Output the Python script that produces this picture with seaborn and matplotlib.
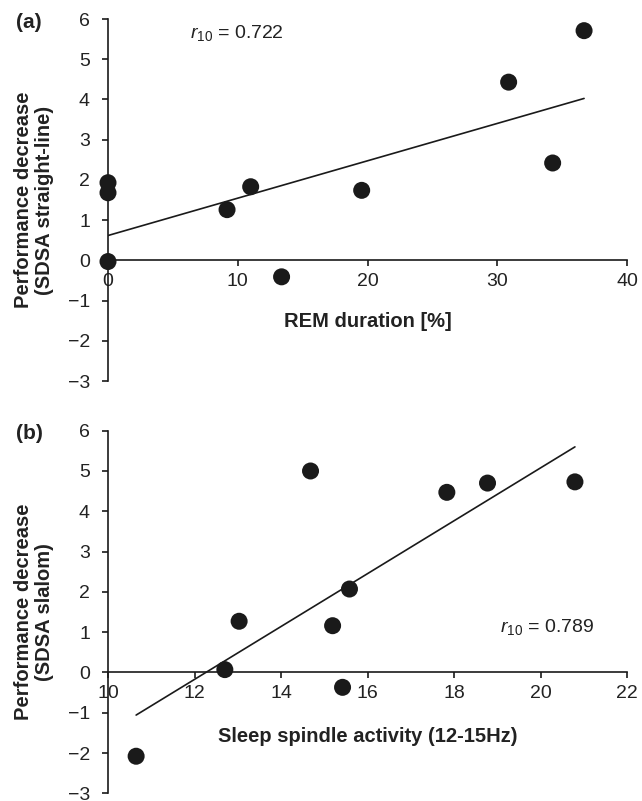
import matplotlib
matplotlib.use("Agg")
import matplotlib.pyplot as plt
import seaborn as sns
import numpy as np
import pandas as pd

# Panel (a): REM duration vs performance decrease (straight-line)
rem_duration = [0.0, 0.0, 0.0, 9.17, 10.99, 13.37, 19.54, 30.86, 34.25, 36.67]
perf_straight = [1.93, 1.68, -0.03, 1.26, 1.83, -0.41, 1.74, 4.43, 2.42, 5.71]

# Panel (b): sleep spindle activity vs performance decrease (slalom)
spindle_activity = [10.65, 12.70, 13.03, 14.68, 15.19, 15.42, 15.58, 17.83, 18.77, 20.79]
perf_slalom = [-2.08, 0.07, 1.27, 5.00, 1.16, -0.37, 2.07, 4.47, 4.70, 4.73]

xticks_a = [0, 10, 20, 30, 40]
xticks_b = [10, 12, 14, 16, 18, 20, 22]
yticks = [-3, -2, -1, 0, 1, 2, 3, 4, 5, 6]

sns.set_theme(style="white")
plt.rcParams['font.family'] = ['Liberation Sans', 'DejaVu Sans']
plt.rcParams['mathtext.fontset'] = 'custom'
plt.rcParams['mathtext.rm'] = 'Liberation Sans'
plt.rcParams['mathtext.it'] = 'Liberation Sans:italic'

INK = '#1a1a1a'
TXT = '#222222'
fig = plt.figure(figsize=(6.42, 8.01), dpi=100)

axA = fig.add_axes([108/642, 1 - 381/801, (627.3-108)/642, 362/801])
axB = fig.add_axes([108/642, 1 - 793.3/801, (627.3-108)/642, 362.6/801])

dfA = pd.DataFrame({"x": rem_duration, "y": perf_straight})
dfB = pd.DataFrame({"x": spindle_activity, "y": perf_slalom})

panels = [
    (axA, dfA, xticks_a, (0, 40), "REM duration [%]",
     "Performance decrease\n(SDSA straight-line)", "(a)", r"$r_{\mathrm{10}}$ = 0.722", (6.3, 5.66), 0.163),
    (axB, dfB, xticks_b, (10, 22), "Sleep spindle activity (12-15Hz)",
     "Performance decrease\n(SDSA slalom)", "(b)", r"$r_{\mathrm{10}}$ = 0.789", (19.06, 1.13), 0.156),
]

for ax, df, xt, xl, xlab, ylab, tag, rtxt, rpos, xlab_y in panels:
    sns.regplot(data=df, x="x", y="y", ax=ax, ci=None,
                scatter_kws=dict(s=150, color=INK, alpha=1.0, edgecolor='none', zorder=3, clip_on=False),
                line_kws=dict(color=INK, lw=1.2, zorder=2))
    ax.set_xlim(*xl)
    ax.set_ylim(-3, 6)
    ax.set_xticks(xt)
    ax.set_yticks(yticks)
    ax.set_yticklabels([str(v).replace('-', '\u2212') for v in yticks])
    ax.spines['top'].set_visible(False)
    ax.spines['right'].set_visible(False)
    ax.spines['bottom'].set_position(('data', 0))
    for s in ('left', 'bottom'):
        ax.spines[s].set_color(INK)
        ax.spines[s].set_linewidth(1.2)
    ax.tick_params(axis='both', which='major', direction='out', length=4, width=1.2,
                   color=INK, labelsize=14, labelcolor=TXT)
    ax.tick_params(axis='y', pad=9)
    ax.tick_params(axis='x', pad=5)
    ax.tick_params(left=True, bottom=True)
    ax.set_xlabel(xlab, fontsize=14.5, fontweight='bold', color=TXT)
    ax.xaxis.set_label_coords(0.5, xlab_y)
    ax.xaxis.label.set_va('center')
    ax.set_ylabel(ylab, fontsize=14.5, fontweight='bold', color=TXT, linespacing=1.15)
    ax.yaxis.set_label_coords(-0.143, 0.5)
    ax.yaxis.label.set_va('center')
    ax.text(rpos[0], rpos[1], rtxt, fontsize=14, color=TXT, va='center', ha='left')
    bb = ax.get_position()
    fig.text(16/642, bb.y1 - 3/801, tag, fontsize=15, fontweight='bold', color=TXT,
             ha='left', va='center')
    ax.set_facecolor('white')

fig.savefig("out.png", dpi=100, facecolor='white')
